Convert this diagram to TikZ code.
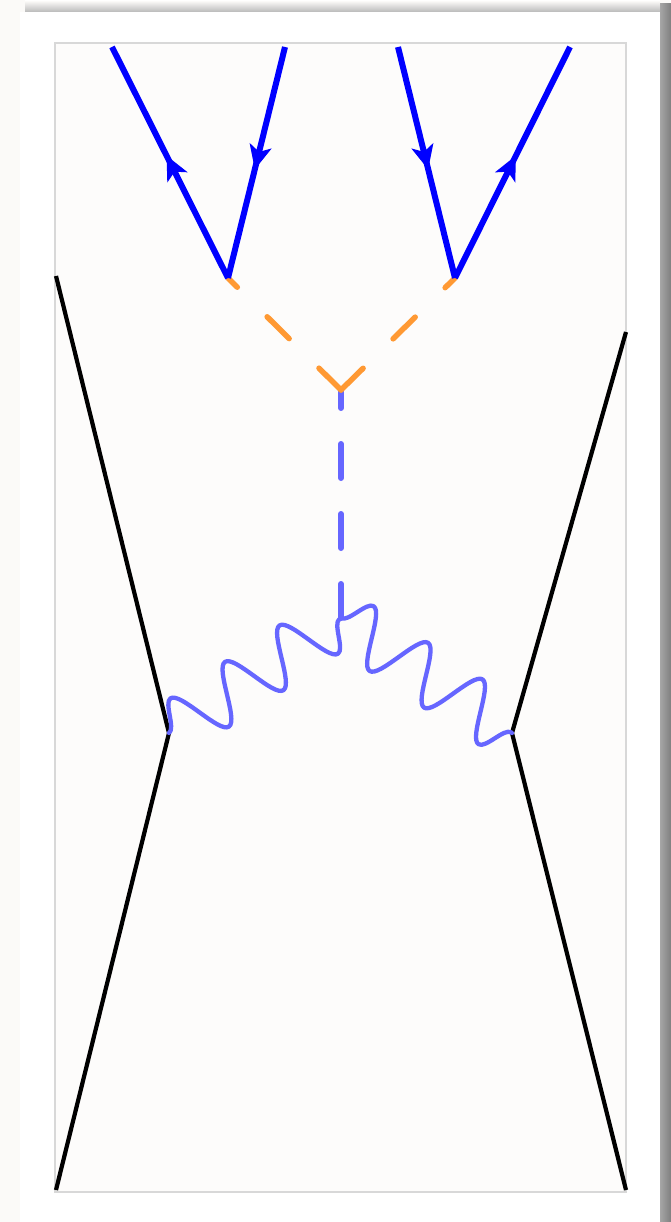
\documentclass[tikz,border=0pt]{standalone}
\usetikzlibrary{arrows.meta,decorations.pathmorphing,decorations.markings}
\definecolor{bgout}{HTML}{FBFAF8}
\definecolor{innerfill}{HTML}{FDFCFB}
\definecolor{innerdraw}{HTML}{D8D8D8}
\definecolor{fermblue}{HTML}{0000FF}
\definecolor{photblue}{HTML}{6666FF}
\definecolor{scalarorange}{HTML}{FF9933}
\tikzset{
  extline/.style={draw=black,line width=4.2pt,line join=miter},
  fermion/.style={draw=fermblue,line width=6pt,postaction={decorate},
    decoration={markings,mark=at position 0.53 with {\arrow{Stealth[length=24pt,width=22pt,inset=6pt]}}}},
  scalar/.style={draw=scalarorange,line width=5.5pt,line cap=round,dash pattern=on 31pt off 42pt},
  bluescalar/.style={draw=photblue,line width=6pt,line cap=round,dash pattern=on 34pt off 36pt},
  photon/.style={draw=photblue,line width=4.3pt,line cap=round,line join=round,decorate,
    decoration={snake,amplitude=28pt,segment length=65.6pt}}
}
\begin{document}
\begin{tikzpicture}[x=1pt,y=-1pt]
\useasboundingbox (0,0) rectangle (671,1222);
% page background and panel with shadow
\fill[bgout] (0,0) rectangle (671,1222);
\shade[top color=bgout,bottom color=gray!55] (25,1) rectangle (660,12);
\shade[left color=gray!70,right color=gray] (660,4) rectangle (671,1222);
\fill[white] (20,12) rectangle (660,1222);
\draw[innerdraw,fill=innerfill,line width=1.5pt] (55,43) rectangle (626,1192);
% coordinates
\coordinate (lt) at (56,276);
\coordinate (lv) at (169,733);
\coordinate (lb) at (56,1190);
\coordinate (rt) at (626,332);
\coordinate (rv) at (512,733);
\coordinate (rb) at (626,1190);
\coordinate (pv) at (341,618);
\coordinate (sv) at (341,390);
\coordinate (va) at (228,278);
\coordinate (vb) at (455,278);
\coordinate (f1) at (112,47);
\coordinate (f2) at (285,47);
\coordinate (f3) at (398,47);
\coordinate (f4) at (570,47);
% external lines
\draw[extline] (lt) -- (lv) -- (lb);
\draw[extline] (rt) -- (rv) -- (rb);
% photons
\draw[photon] (lv) -- (pv);
\draw[photon] (pv) -- (rv);
% dashed lines
\draw[bluescalar] (pv) -- (sv);
\draw[scalar] (sv) -- (va);
\draw[scalar] (sv) -- (vb);
% fermions
\draw[fermion] (va) -- (f1);
\draw[fermion] (f2) -- (va);
\draw[fermion] (f3) -- (vb);
\draw[fermion] (vb) -- (f4);
\end{tikzpicture}
\end{document}
